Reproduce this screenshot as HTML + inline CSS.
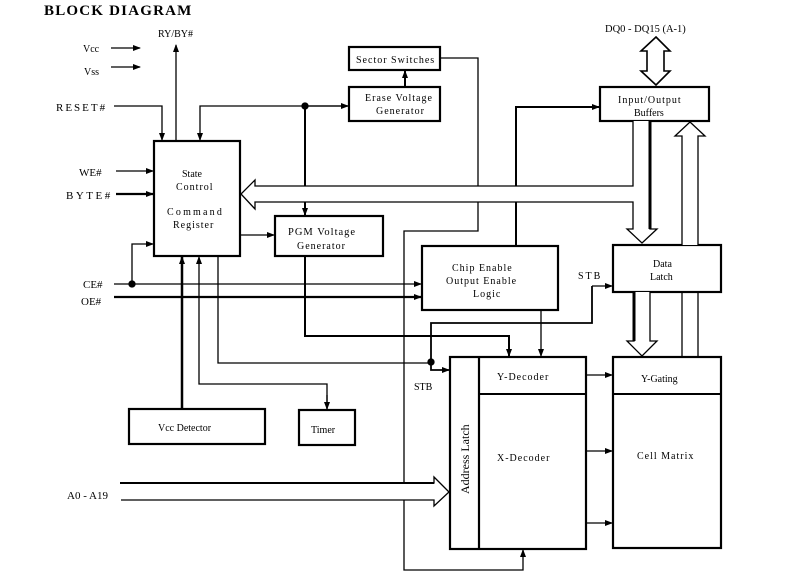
<!DOCTYPE html>
<html><head><style>
body{margin:0;background:#fff}
svg{display:block}
text{font-family:"Liberation Serif",serif;fill:#000}
</style></head><body>
<svg width="808" height="573" viewBox="0 0 808 573" xmlns="http://www.w3.org/2000/svg">
<defs>
<marker id="a" markerWidth="8" markerHeight="6" refX="7" refY="3" orient="auto" markerUnits="userSpaceOnUse"><path d="M0,0 L8,3 L0,6 z" fill="#000"/></marker>
</defs>
<g stroke="#000" fill="none" stroke-width="1.3">
<text x="44" y="15" font-size="15" font-weight="bold" stroke="none" letter-spacing="1.2">BLOCK DIAGRAM</text>

<rect x="154" y="141" width="86" height="115" stroke-width="2.2"/>
<rect x="349" y="47" width="91" height="23" stroke-width="2.2"/>
<rect x="349" y="87" width="91" height="34" stroke-width="2.2"/>
<rect x="275" y="216" width="108" height="40" stroke-width="2.2"/>
<rect x="600" y="87" width="109" height="34" stroke-width="2.2"/>
<rect x="422" y="246" width="136" height="64" stroke-width="2.2"/>
<rect x="613" y="245" width="108" height="47" stroke-width="2.2"/>
<rect x="129" y="409" width="136" height="35" stroke-width="2.2"/>
<rect x="299" y="410" width="56" height="35" stroke-width="2.2"/>
<rect x="450" y="357" width="136" height="192" stroke-width="2.2"/>
<line x1="479" y1="357" x2="479" y2="549" stroke-width="2.2"/>
<line x1="479" y1="394" x2="586" y2="394" stroke-width="2"/>
<rect x="613" y="357" width="108" height="191" stroke-width="2.2"/>
<line x1="613" y1="394" x2="721" y2="394" stroke-width="2"/>

<line x1="111" y1="48" x2="140" y2="48" marker-end="url(#a)"/>
<line x1="111" y1="67" x2="140" y2="67" marker-end="url(#a)"/>
<polyline points="114,106 162,106 162,140" marker-end="url(#a)"/>
<line x1="176" y1="141" x2="176" y2="45" marker-end="url(#a)"/>
<line x1="116" y1="171" x2="153" y2="171" marker-end="url(#a)"/>
<line x1="116" y1="194" x2="153" y2="194" stroke-width="2.2" marker-end="url(#a)"/>
<polyline points="132,284 132,244 153,244" marker-end="url(#a)"/>
<circle cx="132" cy="284" r="3" fill="#000"/>
<line x1="114" y1="284" x2="421" y2="284" marker-end="url(#a)"/>
<line x1="114" y1="297" x2="421" y2="297" stroke-width="2.2" marker-end="url(#a)"/>

<polyline points="348,106 200,106 200,140" marker-end="url(#a)"/>
<line x1="305" y1="106" x2="348" y2="106" marker-end="url(#a)"/>
<circle cx="305" cy="106" r="3" fill="#000"/>
<line x1="305" y1="106" x2="305" y2="215" stroke-width="2" marker-end="url(#a)"/>
<line x1="405" y1="87" x2="405" y2="71" stroke-width="2" marker-end="url(#a)"/>
<polyline points="440,58 478,58 478,186"/>
<polyline points="478,202 478,231 404,231 404,570 523,570 523,550" marker-end="url(#a)"/>
<line x1="240" y1="235" x2="274" y2="235" marker-end="url(#a)"/>

<path d="M633,121 L633,186 L255,186 L255,180 L241,194 L255,209 L255,202 L633,202 L633,229 L627,229 L642,243 L657,229 L650,229 L650,121" fill="#fff"/>
<line x1="650" y1="121" x2="650" y2="229" stroke-width="3"/>
<line x1="516" y1="202" x2="516" y2="246" stroke-width="2"/>
<polyline points="516,186 516,107 599,107" stroke-width="2" marker-end="url(#a)"/>

<path d="M656,37 L670,51 L664,51 L664,71 L670,71 L656,85 L641,71 L647,71 L647,51 L641,51 Z" fill="#fff" stroke-width="1.6"/>
<path d="M682,245 L682,136 L675,136 L690,122 L705,136 L698,136 L698,245" fill="#fff"/>
<path d="M634,292 L634,341 L627,341 L642,356 L657,341 L650,341 L650,292" fill="#fff"/>
<line x1="634" y1="292" x2="634" y2="341" stroke-width="3"/>
<line x1="682" y1="292" x2="682" y2="357"/>
<line x1="698" y1="292" x2="698" y2="357"/>

<line x1="182" y1="409" x2="182" y2="257" stroke-width="2.5" marker-end="url(#a)"/>
<polyline points="327,409 327,384 199,384 199,257" marker-end="url(#a)"/>
<line x1="327" y1="395" x2="327" y2="409" marker-end="url(#a)"/>
<polyline points="218,256 218,363 431,363"/>
<polyline points="305,256 305,336 509,336 509,356" stroke-width="2" marker-end="url(#a)"/>
<line x1="541" y1="310" x2="541" y2="356" marker-end="url(#a)"/>
<polyline points="592,286 592,323 431,323 431,370 449,370" stroke-width="1.8" marker-end="url(#a)"/>
<line x1="592" y1="286" x2="612" y2="286" marker-end="url(#a)"/>
<circle cx="431" cy="362" r="3" fill="#000"/>

<path d="M120,483 L434,483 L434,477 L449,492 L434,506 L434,500 L121,500" fill="#fff"/>
<line x1="120" y1="483" x2="434" y2="483" stroke-width="2"/>

<line x1="586" y1="375" x2="612" y2="375" marker-end="url(#a)"/>
<line x1="586" y1="451" x2="612" y2="451" marker-end="url(#a)"/>
<line x1="586" y1="523" x2="612" y2="523" marker-end="url(#a)"/>
</g>

<g font-size="11" letter-spacing="1">
<text x="158" y="37" font-size="10" letter-spacing="0">RY/BY#</text>
<text x="83" y="52" font-size="10" letter-spacing="0">Vcc</text>
<text x="84" y="75" font-size="10" letter-spacing="0">Vss</text>
<text x="56" y="111" font-size="11" letter-spacing="2">RESET#</text>
<text x="79" y="176" font-size="11" letter-spacing="0">WE#</text>
<text x="66" y="199" letter-spacing="2.5">BYTE#</text>
<text x="83" y="288" letter-spacing="0">CE#</text>
<text x="81" y="305" letter-spacing="0">OE#</text>
<text x="182" y="177" font-size="10" letter-spacing="0">State</text>
<text x="176" y="190" font-size="10">Control</text>
<text x="167" y="215" font-size="10" letter-spacing="2.2">Command</text>
<text x="173" y="228" font-size="10">Register</text>
<text x="356" y="63" font-size="10">Sector Switches</text>
<text x="365" y="101" font-size="10">Erase Voltage</text>
<text x="376" y="114" font-size="10">Generator</text>
<text x="288" y="235" font-size="10.5">PGM Voltage</text>
<text x="297" y="249" font-size="10">Generator</text>
<text x="605" y="32" font-size="10.5" letter-spacing="0">DQ0 - DQ15 (A-1)</text>
<text x="618" y="103" font-size="10">Input/Output</text>
<text x="634" y="116" font-size="10" letter-spacing="0">Buffers</text>
<text x="452" y="271" font-size="10">Chip Enable</text>
<text x="446" y="284" font-size="10">Output Enable</text>
<text x="473" y="297" font-size="10">Logic</text>
<text x="578" y="279" font-size="10" letter-spacing="2">STB</text>
<text x="653" y="267" font-size="10" letter-spacing="0">Data</text>
<text x="650" y="280" font-size="10" letter-spacing="0">Latch</text>
<text x="414" y="390" font-size="10" letter-spacing="0">STB</text>
<text x="158" y="431" font-size="10" letter-spacing="0">Vcc Detector</text>
<text x="311" y="433" font-size="10" letter-spacing="0">Timer</text>
<text x="67" y="499" font-size="11" letter-spacing="0">A0 - A19</text>
<text x="497" y="380" font-size="10">Y-Decoder</text>
<text x="497" y="461" font-size="10">X-Decoder</text>
<text x="641" y="382" font-size="10" letter-spacing="0">Y-Gating</text>
<text x="637" y="459" font-size="10">Cell Matrix</text>
<text transform="translate(469,494) rotate(-90)" font-family="Liberation Sans, sans-serif" font-size="12" letter-spacing="0">Address Latch</text>
</g>
</svg>
</body></html>
